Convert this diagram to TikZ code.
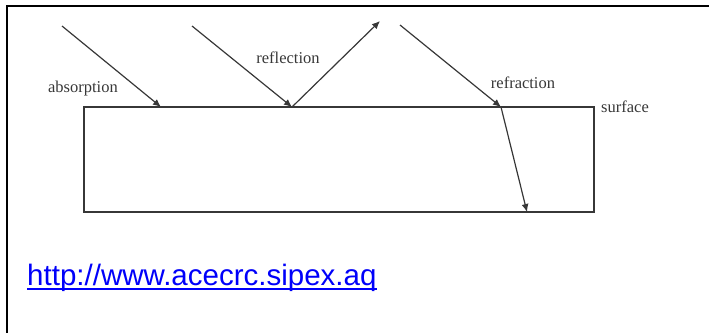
\documentclass[tikz,border=0pt]{standalone}
\usepackage{fontspec}
\setmainfont{Liberation Serif}
\newfontfamily\linkfont{Liberation Sans}
\usepackage{tikz}
\usetikzlibrary{calc}
\usetikzlibrary{arrows.meta}
\definecolor{raygray}{RGB}{55,55,55}
\definecolor{linkblue}{RGB}{0,0,250}

\begin{document}
\begin{tikzpicture}[x=1pt,y=-1pt,
    ray/.style={raygray,line width=1.2pt,-{Latex[length=8pt,width=7pt]}},
    lbl/.style={text=raygray,inner sep=0pt,font=\fontsize{16.5}{18}\selectfont}]
            \useasboundingbox(0,0) rectangle (709,333);
            \draw[line width=2pt](709,6)--(7,6)--(7,333);

            % the slab
            \coordinate (tl) at (84,107);
            \coordinate (br) at (594,212);
            \draw[raygray,line width=1.2pt](tl) rectangle (br);

            % points where the rays start and hit
            \coordinate (absIn) at (62,26);
            \coordinate (absHit) at (161,107);
            \coordinate (refIn) at (192,26);
            \coordinate (refHit) at (292,107);
            \coordinate (refOut) at (380,21);
            \coordinate (fracIn) at (400,25);
            \coordinate (fracHit) at (501,107);
            \coordinate (fracOut) at (527,212);

            \draw[ray](absIn)--(absHit);
            \draw[ray](refIn)--(refHit);
            \draw[ray](refHit)--(refOut);
            \draw[ray](fracIn)--(fracHit);
            \draw[ray](fracHit)--(fracOut);

            \node[lbl] (absorption) at (83,89) {absorption};
            \node[lbl] (reflection) at (288,58) {reflection};
            \node[lbl] (refraction) at (523,83) {refraction};
            \node[lbl] (surface) at (625,107) {surface};

            \node[anchor=base west,inner sep=0pt,text=linkblue,font=\linkfont\fontsize{29.5}{32}\selectfont] (url) at (27,285) {http://www.acecrc.sipex.aq};
            \draw[linkblue,line width=1.8pt]($(url.base west)+(0,4)$)--($(url.base east)+(0,4)$);

        \end{tikzpicture}
\end{document}
